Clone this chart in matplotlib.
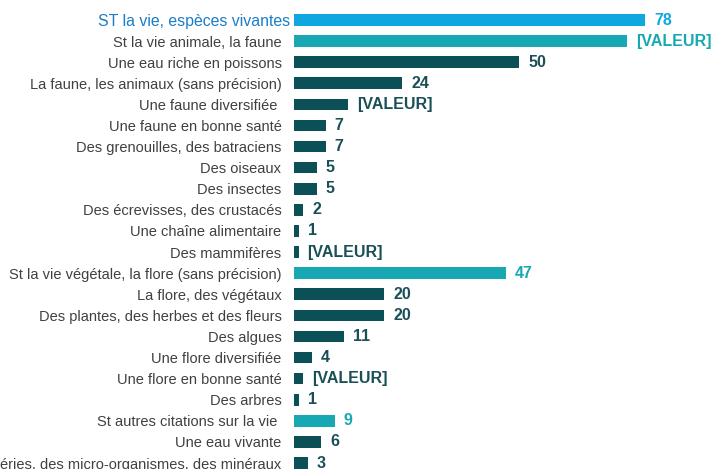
import matplotlib
matplotlib.use("Agg")
import matplotlib.pyplot as plt
from matplotlib.transforms import ScaledTranslation

plt.rcParams["font.family"] = ["Liberation Sans", "DejaVu Sans"]

labels = [
    "ST la vie, espèces vivantes",
    "St la vie animale, la faune",
    "Une eau riche en poissons",
    "La faune, les animaux (sans précision)",
    "Une faune diversifiée ",
    "Une faune en bonne santé",
    "Des grenouilles, des batraciens",
    "Des oiseaux",
    "Des insectes",
    "Des écrevisses, des crustacés",
    "Une chaîne alimentaire",
    "Des mammifères",
    "St la vie végétale, la flore (sans précision)",
    "La flore, des végétaux",
    "Des plantes, des herbes et des fleurs",
    "Des algues",
    "Une flore diversifiée",
    "Une flore en bonne santé",
    "Des arbres",
    "St autres citations sur la vie ",
    "Une eau vivante",
    "Des bactéries, des micro-organismes, des minéraux",
]
values = [78, 74, 50, 24, 12, 7, 7, 5, 5, 2, 1, 1, 47, 20, 20, 11, 4, 2, 1, 9, 6, 3]
value_text = ["78", "[VALEUR]", "50", "24", "[VALEUR]", "7", "7", "5", "5", "2", "1",
              "[VALEUR]", "47", "20", "20", "11", "4", "[VALEUR]", "1", "9", "6", "3"]
# level: 0 = total, 1 = sub-total, 2 = detail
levels = [0, 1, 2, 2, 2, 2, 2, 2, 2, 2, 2, 2, 1, 2, 2, 2, 2, 2, 2, 1, 2, 2]

BLUE = "#0fa7e0"
TEAL = "#18a8b4"
DARK = "#0c5057"
bar_colors = {0: BLUE, 1: TEAL, 2: DARK}
text_colors = {0: BLUE, 1: TEAL, 2: "#1b4f56"}

W, H = 712, 469
fig = plt.figure(figsize=(W / 100, H / 100), dpi=100)
left = 294
ax = fig.add_axes([left / W, 0, 1 - left / W, 1])

n = len(labels)
step = (463 - 20) / (n - 1)
ypos = list(range(n))
ax.barh(ypos, values, height=0.55, color=[bar_colors[l] for l in levels])

ax.set_ylim(n - 1 + 6 / step, -20 / step)
ax.set_xlim(0, (W - left) / 4.5)

for y, v, t, l in zip(ypos, values, value_text, levels):
    ax.annotate(t, (v, y), xytext=(6.5, 0), textcoords="offset points",
                va="center", ha="left", fontsize=11.5, fontweight="bold",
                color=text_colors[l])

ax.set_yticks(ypos)
ax.set_yticklabels(labels, fontsize=10.5, color="#404040")
ax.tick_params(axis="y", length=0, pad=9)
tl = ax.get_yticklabels()
tl[0].set_color("#1a7dc8")
tl[0].set_fontsize(11.4)
tl[0].set_transform(tl[0].get_transform() + ScaledTranslation(6 / 72, 0, fig.dpi_scale_trans))

ax.set_xticks([])
for s in ax.spines.values():
    s.set_visible(False)

fig.savefig("out.png", dpi=100)
plt.close()
